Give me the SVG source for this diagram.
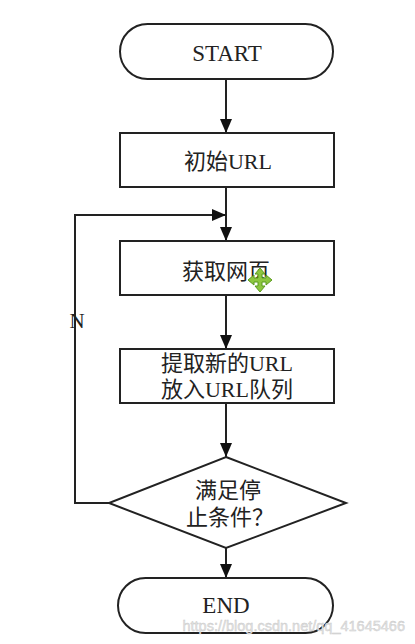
<svg xmlns="http://www.w3.org/2000/svg" width="415" height="644" viewBox="0 0 415 644">
<style>
.shape{fill:#fff;stroke:#222;stroke-width:2}
.line{fill:none;stroke:#222;stroke-width:2}
.lbl{font-family:"Liberation Serif","Noto Sans CJK SC",serif;fill:#222;text-anchor:middle}
.en{font-size:23px}
.zh{font-size:22px}
</style>
<defs>
<marker id="arr" markerWidth="14" markerHeight="12" refX="14" refY="6" orient="auto" markerUnits="userSpaceOnUse">
<path d="M0,0 L14,6 L0,12 Z" fill="#111"/>
</marker>
</defs>
<rect width="415" height="644" fill="#fff"/>
<g id="connectors">
<line class="line" x1="226" y1="80" x2="226" y2="133" marker-end="url(#arr)"/>
<line class="line" x1="226" y1="187" x2="226" y2="241" marker-end="url(#arr)"/>
<line class="line" x1="226" y1="295" x2="226" y2="349" marker-end="url(#arr)"/>
<line class="line" x1="226" y1="403" x2="226" y2="457" marker-end="url(#arr)"/>
<line class="line" x1="226" y1="548" x2="226" y2="578" marker-end="url(#arr)"/>
<polyline class="line" points="109,503 75,503 75,215 226,215" marker-end="url(#arr)"/>
<text class="lbl" font-size="21" x="77" y="328">N</text>
</g>
<g id="start">
<rect class="shape" x="120" y="24" width="213" height="55" rx="27.5"/>
<text class="lbl en" x="227" y="61">START</text>
</g>
<g id="init">
<rect class="shape" x="120" y="133" width="214" height="54"/>
<text class="lbl zh" x="228" y="169">初始URL</text>
</g>
<g id="fetch">
<rect class="shape" x="120" y="241" width="214" height="54"/>
<text class="lbl zh" x="226" y="279">获取网页</text>
</g>
<g id="extract">
<rect class="shape" x="120" y="349" width="214" height="54"/>
<text class="lbl zh" x="227" y="371">提取新的URL</text>
<text class="lbl zh" x="227" y="397">放入URL队列</text>
</g>
<g id="decision">
<polygon class="shape" points="226,457 346,503 226,548 109,503"/>
<text class="lbl zh" x="228" y="498">满足停</text>
<text class="lbl zh" x="230" y="525">止条件？</text>
</g>
<g id="end">
<rect class="shape" x="118" y="578" width="215" height="55" rx="27.5"/>
<text class="lbl en" x="226" y="613">END</text>
</g>
<g id="cursor">
<path d="M260,268 L265,274 L262,274 L262,278 L266,278 L266,275 L272,280 L266,285 L266,282 L262,282 L262,286 L265,286 L260,292 L255,286 L258,286 L258,282 L254,282 L254,285 L248,280 L254,275 L254,278 L258,278 L258,274 L255,274 Z" fill="#8cc63f" stroke="#5a9a1e" stroke-width="1"/>
</g>
<text x="405" y="631" font-family="Liberation Sans, sans-serif" font-size="14.5" fill="#e4e4e4" stroke="#c8c8c8" stroke-width="0.4" text-anchor="end">https://blog.csdn.net/qq_41645466</text>
</svg>
